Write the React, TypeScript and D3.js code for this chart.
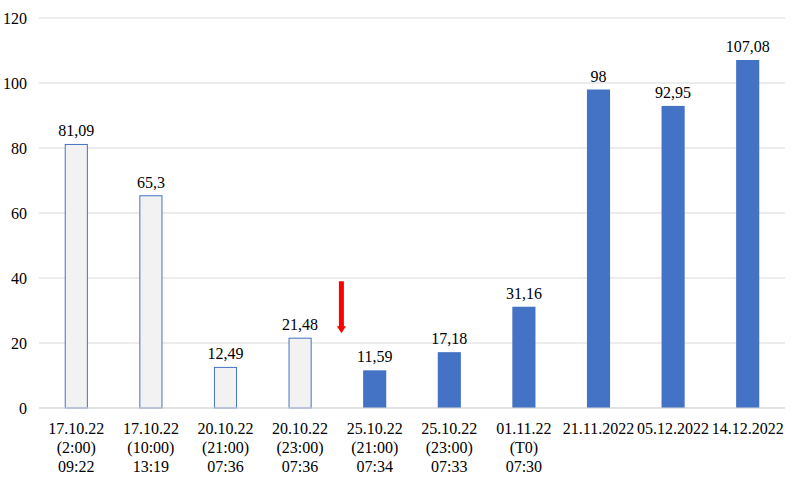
import React from "react";
import * as d3 from "d3";

const categories: string[][] = [
  ["17.10.22", "(2:00)", "09:22"],
  ["17.10.22", "(10:00)", "13:19"],
  ["20.10.22", "(21:00)", "07:36"],
  ["20.10.22", "(23:00)", "07:36"],
  ["25.10.22", "(21:00)", "07:34"],
  ["25.10.22", "(23:00)", "07:33"],
  ["01.11.22", "(T0)", "07:30"],
  ["21.11.2022"],
  ["05.12.2022"],
  ["14.12.2022"],
];
const values: number[] = [81.09, 65.3, 12.49, 21.48, 11.59, 17.18, 31.16, 98, 92.95, 107.08];
const labels: string[] = ["81,09", "65,3", "12,49", "21,48", "11,59", "17,18", "31,16", "98", "92,95", "107,08"];
const hollow: boolean[] = [true, true, true, true, false, false, false, false, false, false];
const yTicks: number[] = [0, 20, 40, 60, 80, 100, 120];
const arrowFrom = 39; // value at arrow top
const arrowTo = 23; // value at arrow tip

const font = '"Liberation Serif", "DejaVu Serif", "Noto Serif", serif';

export default function App() {
  const W = 800, H = 486;
  const left = 39, right = 785, top = 18, bottom = 408;
  const x = d3.scaleBand<number>().domain(d3.range(values.length)).range([left, right]).padding(0);
  const y = d3.scaleLinear().domain([0, 120]).range([bottom, top]);
  const bw = x.bandwidth() * 0.31;
  const arrowX = (x(3)! + x(4)! + x.bandwidth()) / 2 + 4;
  const ts: React.CSSProperties = { fontFamily: font, fontSize: 16 };
  return (
    <svg width={W} height={H} style={{ position: "absolute", left: 0, top: 0, background: "#fff", fontFamily: font }}>
      {yTicks.map((t) => (
        <g key={t}>
          <line x1={left} x2={right} y1={y(t)} y2={y(t)} stroke="#d9d9d9" strokeWidth={1} />
          <text x={27} y={y(t)} dy="0.35em" textAnchor="end" style={ts} fill="#000">{t}</text>
        </g>
      ))}
      {values.map((v, i) => {
        const cx = x(i)! + x.bandwidth() / 2;
        return (
          <g key={i}>
            <rect
              x={cx - bw / 2 + (hollow[i] ? 0.5 : 0)}
              y={y(v)}
              width={bw - (hollow[i] ? 1 : 0)}
              height={y(0) - y(v)}
              fill={hollow[i] ? "#f2f2f2" : "#4472c4"}
              stroke={hollow[i] ? "#4472c4" : "none"}
              strokeWidth={1}
            />
            <text x={cx} y={y(v) - 8} textAnchor="middle" style={ts} fill="#000">{labels[i]}</text>
            {categories[i].map((l, j) => (
              <text key={j} x={cx} y={434 + j * 19} textAnchor="middle" style={ts} fill="#000">{l}</text>
            ))}
          </g>
        );
      })}
      <line x1={left} x2={right} y1={y(0)} y2={y(0)} stroke="#d9d9d9" strokeWidth={1} />
      <line x1={arrowX} x2={arrowX} y1={y(arrowFrom)} y2={y(arrowTo) - 6} stroke="#ff0000" strokeWidth={5} />
      <path
        d={`M${arrowX - 4.5},${y(arrowTo) - 7} L${arrowX + 4.5},${y(arrowTo) - 7} L${arrowX},${y(arrowTo)} Z`}
        fill="#ff0000"
      />
    </svg>
  );
}
